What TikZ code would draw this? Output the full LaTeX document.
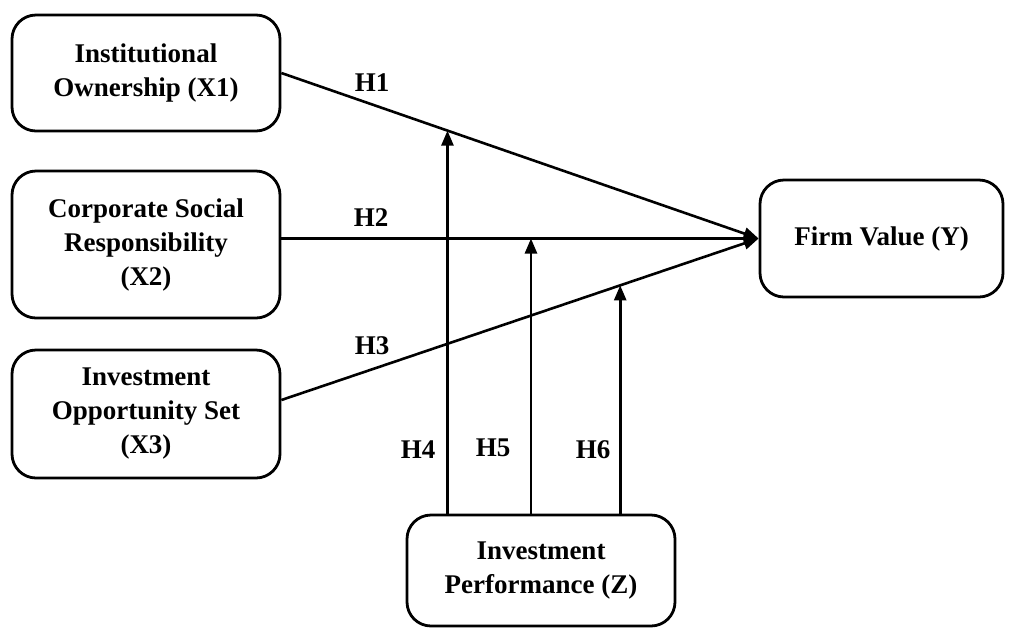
\documentclass[tikz,border=0pt]{standalone}
\usepackage{fontspec}
\setmainfont{Liberation Serif}
\usetikzlibrary{positioning,arrows.meta,calc}
\tikzset{
  box/.style = {rectangle, draw, line width=1.4pt, rounded corners=12pt,
                align = center, minimum width = 134pt,
                font = \fontsize{13.5}{17}\selectfont\bfseries},
  arr/.style = {-{Triangle[length=7.5pt,width=6pt]}, line width=1.3pt},
  lab/.style = {font=\fontsize{13.5}{17}\selectfont\bfseries}
}

\begin{document}
\begin{tikzpicture}[x=0.5pt,y=-0.5pt]
    \useasboundingbox (0,0) rectangle (1016,628);
    \node[box,minimum height=58pt] (inst) at (146,73) {Institutional\\Ownership (X1)};
    \node[box,minimum height=73.5pt] (csr) at (146,244.5) {Corporate Social\\Responsibility\\(X2)};
    \node[box,minimum height=64pt] (ios) at (146,414) {Investment\\Opportunity Set\\(X3)};
    \node[box,minimum width=121.5pt,minimum height=58.5pt] (fv) at (881.5,238.5) {Firm Value (Y)};
    \node[box,minimum height=55.5pt] (ip) at (541,570.5) {Investment\\Performance (Z)};
    \draw[arr] (inst.east)--(fv.west);
    \draw[arr] (csr.east |- fv.west)--(fv.west);
    \draw[arr] ([yshift=7pt]ios.east)--(fv.west);
    % moderation paths
    \coordinate (m1) at ($(inst.east)!0.348!(fv.west)$);
    \coordinate (m2) at ($(csr.east |- fv.west)!0.523!(fv.west)$);
    \coordinate (m3) at ($([yshift=7pt]ios.east)!0.71!(fv.west)$);
    \draw[arr] (m1 |- ip.north)--(m1);
    \draw[arr] (m2 |- ip.north)--(m2);
    \draw[arr] (m3 |- ip.north)--(m3);
    \node[lab] (h1) at (372,83) {H1};
    \node[lab] (h2) at (371,218) {H2};
    \node[lab] (h3) at (372,346) {H3};
    \node[lab] (h4) at (418,450) {H4};
    \node[lab] (h5) at (493,448) {H5};
    \node[lab] (h6) at (593,450) {H6};
  \end{tikzpicture}
\end{document}
